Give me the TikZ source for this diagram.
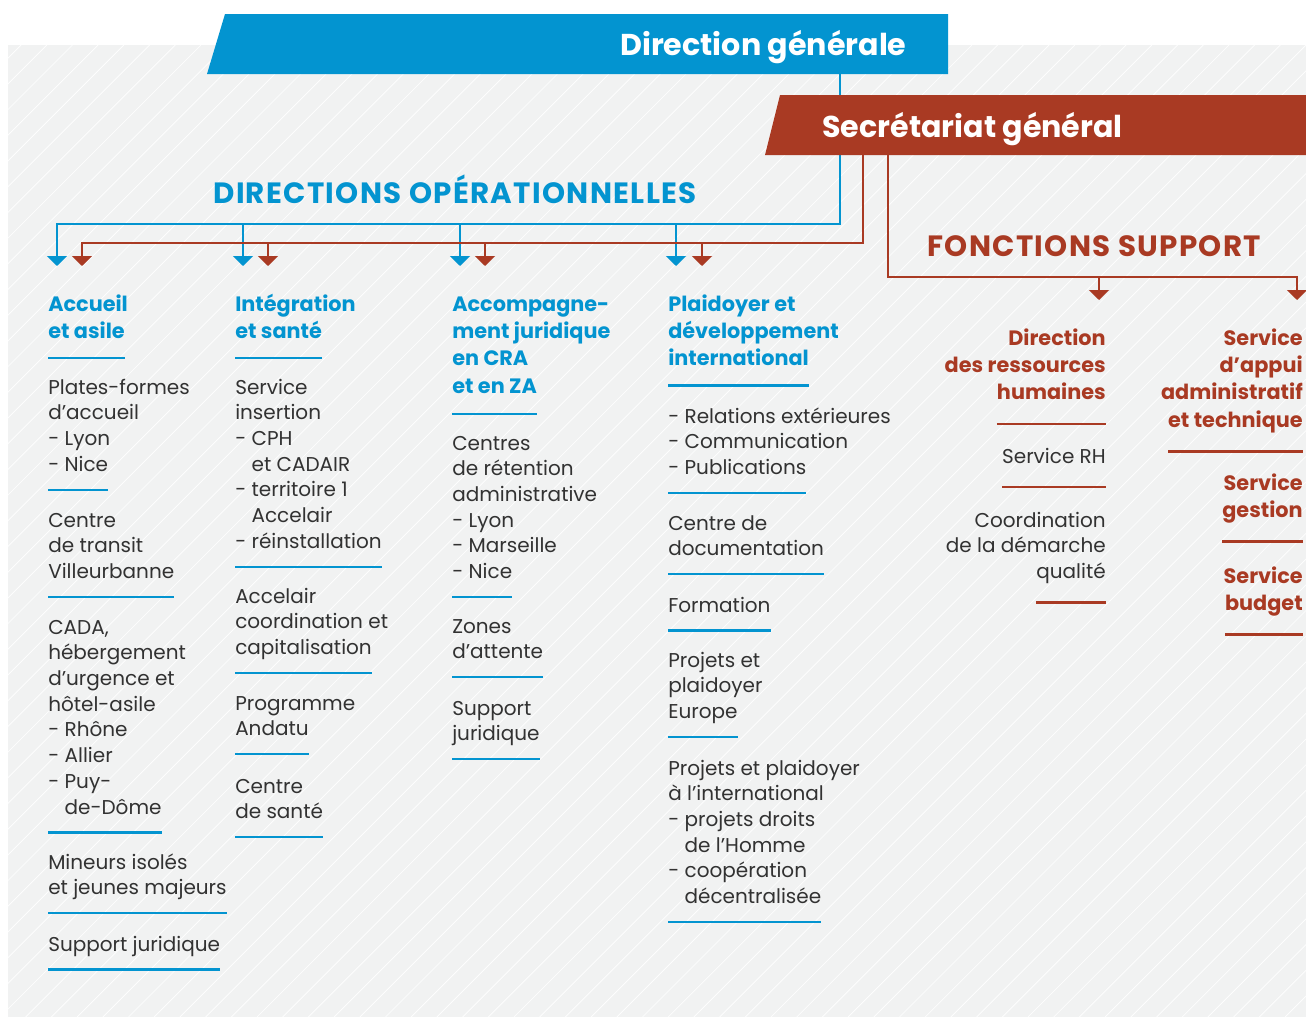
\documentclass[tikz,border=0pt]{standalone}
\usepackage{fontspec}
\setmainfont{Poppins}
\usetikzlibrary{arrows.meta}
\definecolor{dirblue}{RGB}{3,148,208}
\definecolor{sgred}{RGB}{169,58,35}
\definecolor{ink}{RGB}{50,50,50}
\definecolor{panel}{RGB}{241,242,242}
\newsavebox{\ulbox}
\newcommand{\lastline}[3][14.8pt]{\sbox{\ulbox}{#3}\rlap{\color{#2}\rule[-#1]{\wd\ulbox}{1.8pt}}\usebox{\ulbox}}
\newcommand{\lblock}[1]{\begin{tabular}[t]{@{}l@{}}#1\end{tabular}}
\newcommand{\rblock}[1]{\begin{tabular}[t]{@{}r@{}}#1\end{tabular}}
\newcommand{\dash}{\hphantom{- }}
\begin{document}
\begin{tikzpicture}[
    x=0.75pt, y=-0.75pt,
    body/.style={anchor=base west, inner sep=0pt, text=ink, font=\fontsize{15}{19.3}\selectfont},
    head/.style={body, text=dirblue, font=\fontsize{15.6}{20.6}\selectfont\bfseries},
    rbody/.style={body, anchor=base east},
    rhead/.style={head, anchor=base east, text=sgred},
    banner/.style={anchor=base west, inner sep=0pt, text=white, font=\fontsize{22.6}{26}\selectfont\bfseries},
    section/.style={inner sep=0pt, font=\fontsize{22}{24}\selectfont\bfseries\addfontfeatures{LetterSpace=4.5}},
    bluewire/.style={draw=dirblue, line width=1.6pt},
    redwire/.style={draw=sgred, line width=1.6pt},
    tip/.style={-{Triangle[width=15pt,length=7.5pt]}},
    hatch/.style={draw=white, line width=0.5pt}
]
    \useasboundingbox (0,0) rectangle (1306,1017);
    \fill[white] (0,0) rectangle (1306,1017);
    \fill[panel] (8,45) rectangle (1306,1017);
    \begin{scope}
        \clip (8,45) rectangle (1306,1017);
        \foreach \k in {-38,...,51}
            \draw[hatch] (\k*25.7,1017) -- ++(972,-972);
    \end{scope}

    \coordinate (dgfoot) at (840,74);
    \coordinate (sgfoot) at (863,155);
    \coordinate (sgfoot2) at (888,155);
    \foreach \x [count=\i] in {57,243,460,676} {
        \coordinate (bbus\i) at (\x,224);
        \coordinate (btip\i) at (\x,266);
    }
    \foreach \x [count=\i] in {82,268,485,702} {
        \coordinate (rbus\i) at (\x,243);
        \coordinate (rtip\i) at (\x,266);
    }
    \foreach \x [count=\i] in {1099,1297} {
        \coordinate (fbus\i) at (\x,277);
        \coordinate (ftip\i) at (\x,300);
    }

    \draw[bluewire, tip] (dgfoot) |- (bbus1) -- (btip1);
    \foreach \i in {2,3,4}
        \draw[bluewire, tip] (bbus\i) -- (btip\i);
    \draw[redwire, tip] (sgfoot) |- (rbus1) -- (rtip1);
    \foreach \i in {2,3,4}
        \draw[redwire, tip] (rbus\i) -- (rtip\i);
    \draw[redwire, tip] (sgfoot2) |- (fbus2) -- (ftip2);
    \draw[redwire, tip] (fbus1) -- (ftip1);

    \fill[dirblue] (225,14) -- (948,14) -- (948,74) -- (207,74) -- cycle;
    \node[banner] (dg) at (620,55) {Direction générale};
    \fill[sgred] (780,95) -- (1306,95) -- (1306,155) -- (765,155) -- cycle;
    \node[banner] (sg) at (822,137) {Secrétariat général};

    \node[section, text=dirblue, anchor=base] (dirop) at (455,203) {DIRECTIONS OPÉRATIONNELLES};
    \node[section, text=sgred, anchor=base west] (fsup) at (927,256) {FONCTIONS SUPPORT};

    \node[head] (accueil) at (48,311) {\lblock{Accueil\\\lastline[15.5pt]{dirblue}{et asile}}};
    \node[body] (acc1) at (48,394) {\lblock{Plates-formes\\d’accueil\\- Lyon\\\lastline{dirblue}{- Nice}}};
    \node[body] (acc2) at (48,527) {\lblock{Centre\\de transit\\\lastline{dirblue}{Villeurbanne}}};
    \node[body] (acc3) at (48,634) {\lblock{CADA,\\hébergement\\d’urgence et\\hôtel-asile\\- Rhône\\- Allier\\- Puy-\\\lastline{dirblue}{\dash de-Dôme}}};
    \node[body] (acc4) at (48,869) {\lblock{Mineurs isolés\\\lastline{dirblue}{et jeunes majeurs}}};
    \node[body] (acc5) at (48,951) {\lblock{\lastline{dirblue}{Support juridique}}};

    \node[head] (integ) at (235,311) {\lblock{Intégration\\\lastline[15.5pt]{dirblue}{et santé}}};
    \node[body] (int1) at (235,394) {\lblock{Service\\insertion\\- CPH\\\dash et CADAIR\\- territoire 1\\\dash Accelair\\\lastline{dirblue}{- réinstallation}}};
    \node[body] (int2) at (235,603) {\lblock{Accelair\\coordination et\\\lastline{dirblue}{capitalisation}}};
    \node[body] (int3) at (235,710) {\lblock{Programme\\\lastline{dirblue}{Andatu}}};
    \node[body] (int4) at (235,793) {\lblock{Centre\\\lastline{dirblue}{de santé}}};

    \node[head] (accomp) at (452,311) {\lblock{Accompagne-\\ment juridique\\en CRA\\\lastline[16.5pt]{dirblue}{et en ZA}}};
    \node[body] (acp1) at (452,450) {\lblock{Centres\\de rétention\\administrative\\- Lyon\\- Marseille\\\lastline{dirblue}{- Nice}}};
    \node[body] (acp2) at (452,633) {\lblock{Zones\\\lastline{dirblue}{d’attente}}};
    \node[body] (acp3) at (452,715) {\lblock{Support\\\lastline{dirblue}{juridique}}};

    \node[head] (plaid) at (668,311) {\lblock{Plaidoyer et\\développement\\\lastline[15.5pt]{dirblue}{international}}};
    \node[body] (pl1) at (668,423) {\lblock{- Relations extérieures\\- Communication\\\lastline{dirblue}{- Publications}}};
    \node[body] (pl2) at (668,530) {\lblock{Centre de\\\lastline{dirblue}{documentation}}};
    \node[body] (pl3) at (668,612) {\lblock{\lastline{dirblue}{Formation}}};
    \node[body] (pl4) at (668,667) {\lblock{Projets et\\plaidoyer\\\lastline{dirblue}{Europe}}};
    \node[body] (pl5) at (668,775) {\lblock{Projets et plaidoyer\\à l’international\\- projets droits\\\dash de l’Homme\\- coopération\\\lastline{dirblue}{\dash décentralisée}}};

    \node[rhead] (drh) at (1106,345) {\rblock{Direction\\des ressources\\\lastline[18.9pt]{sgred}{humaines}}};
    \node[rbody] (rh1) at (1106,463) {\rblock{\lastline[18.9pt]{sgred}{Service RH}}};
    \node[rbody] (rh2) at (1106,527) {\rblock{Coordination\\de la démarche\\\lastline[18.9pt]{sgred}{qualité}}};

    \node[rhead] (sat) at (1303,345) {\rblock{Service\\d’appui\\administratif\\\lastline[18.9pt]{sgred}{et technique}}};
    \node[rhead] (sgest) at (1303,490) {\rblock{Service\\\lastline[18.9pt]{sgred}{gestion}}};
    \node[rhead] (sbud) at (1303,583) {\rblock{Service\\\lastline[18.9pt]{sgred}{budget}}};
\end{tikzpicture}
\end{document}
